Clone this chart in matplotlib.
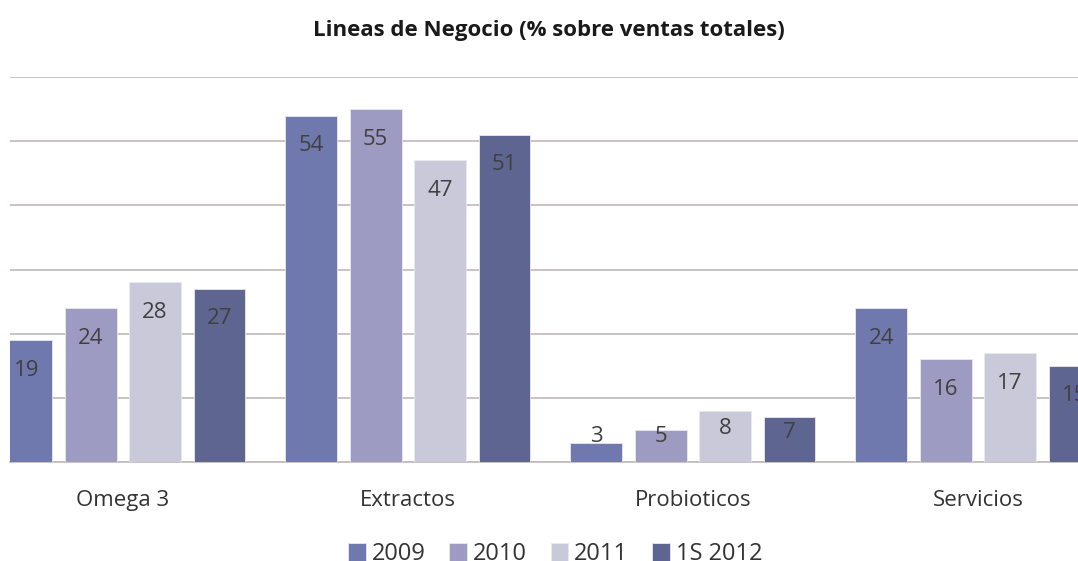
import matplotlib

matplotlib.use("Agg")
import matplotlib.pyplot as plt  # noqa: E402
import numpy as np  # noqa: E402

plt.rcParams["font.family"] = ["Open Sans", "DejaVu Sans"]

categories = ["Omega 3", "Extractos", "Probioticos", "Servicios"]
series_names = ["2009", "2010", "2011", "1S 2012"]
v2009 = [19, 54, 3, 24]
v2010 = [24, 55, 5, 16]
v2011 = [28, 47, 8, 17]
v1s2012 = [27, 51, 7, 15]
values = [v2009, v2010, v2011, v1s2012]

COLORS = ["#7079ae", "#9e9bc2", "#cac9da", "#5d6590"]
GRID = "#c2b9b9"
TEXT = "#404040"

fig = plt.figure(figsize=(10.78, 5.61), dpi=100)
ax = fig.add_axes((10 / 1078, 99 / 561, 1 - 10 / 1078, 385 / 561))

x = np.arange(len(categories))
pitch = 0.226
width = 0.182
for i, (name, vals) in enumerate(zip(series_names, values)):
    pos = x + (i - 1.5) * pitch
    ax.bar(pos, vals, width=width, color=COLORS[i], edgecolor="#e8e8f0",
           linewidth=0.6, label=name, zorder=3)
    for px, v in zip(pos, vals):
        # value label just inside the top of the bar, kept clear of the axis
        ly = v - 4.7 if v > 12 else max(v * 0.65, 4.0)
        ax.text(px, ly, f"{v}", ha="center", va="center", fontsize=16,
                color=TEXT, zorder=4)

ax.set_xlim(-0.396, 3.351)
ax.set_ylim(0, 60)
ax.set_yticks(range(0, 61, 10))
ax.yaxis.grid(True, color=GRID, linewidth=1.2)
ax.set_axisbelow(True)
ax.tick_params(axis="y", left=False, labelleft=False)
ax.set_xticks(x)
ax.set_xticklabels(categories, fontsize=16, color="#333333")
ax.tick_params(axis="x", length=0, pad=20)
for s in ["top", "right", "left"]:
    ax.spines[s].set_visible(False)
ax.spines["bottom"].set_color(GRID)
ax.spines["bottom"].set_linewidth(1.2)

fig.text(0.509, 0.945, "Lineas de Negocio (% sobre ventas totales)",
         ha="center", va="center", fontsize=16, fontweight="bold", color="#1a1a1a")

fig.legend(loc="center", bbox_to_anchor=(0.515, 0.012), ncol=4, frameon=False,
           fontsize=17, handlelength=0.75, handleheight=0.75, handletextpad=0.25,
           columnspacing=1.0, labelcolor="#333333")

fig.savefig("out.png", dpi=100)
